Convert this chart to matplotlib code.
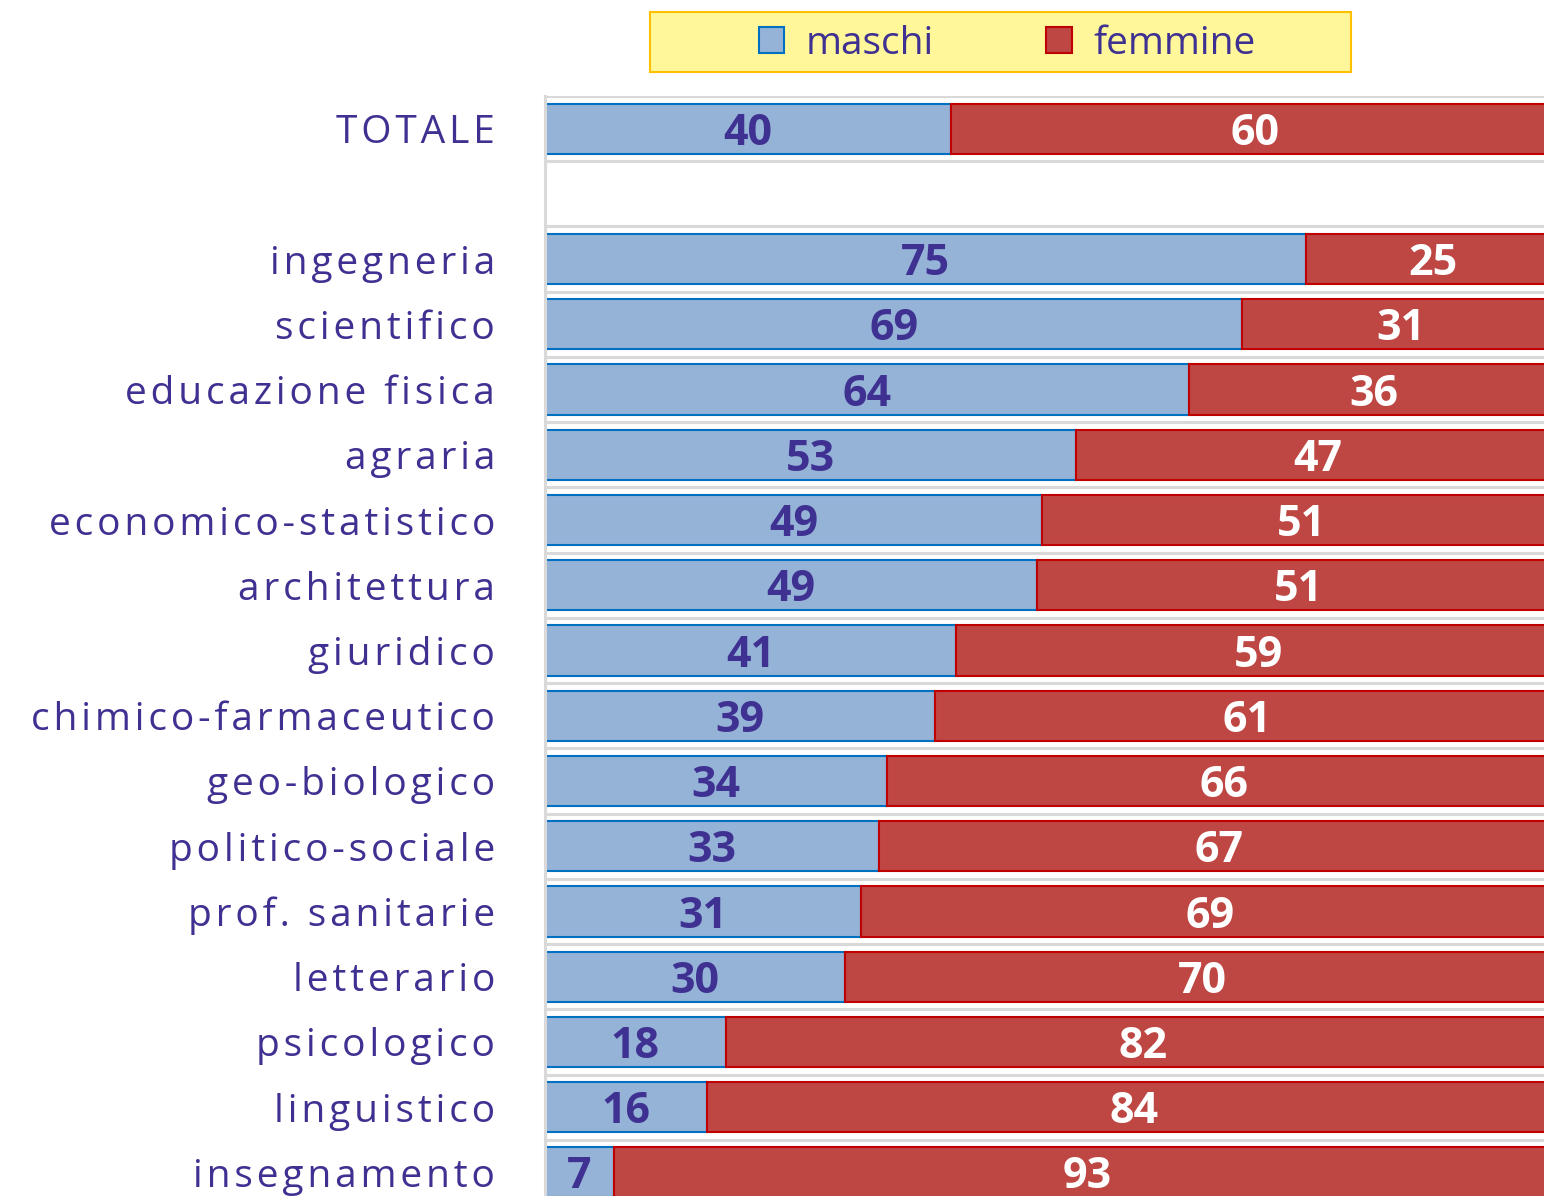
import numpy as np
import matplotlib.pyplot as plt
from matplotlib.patches import Rectangle

# dati (percentuali)
categorie = ["TOTALE", "", "ingegneria", "scientifico", "educazione fisica", "agraria",
             "economico-statistico", "architettura", "giuridico", "chimico-farmaceutico",
             "geo-biologico", "politico-sociale", "prof. sanitarie", "letterario",
             "psicologico", "linguistico", "insegnamento"]
maschi = [40.0, 0, 75.0, 68.7, 63.4, 52.3, 49.0, 48.5, 40.5, 38.4, 33.7, 32.9, 31.1,
          29.6, 17.8, 16.0, 6.8]
femmine = [60.0, 0, 25.0, 31.3, 36.6, 47.7, 51.0, 51.5, 59.5, 61.6, 66.3, 67.1, 68.9,
           70.4, 82.2, 84.0, 93.2]
etichette_m = ["40", "", "75", "69", "64", "53", "49", "49", "41", "39", "34", "33", "31",
               "30", "18", "16", "7"]
etichette_f = ["60", "", "25", "31", "36", "47", "51", "51", "59", "61", "66", "67", "69",
               "70", "82", "84", "93"]

col_m = "#95B3D7"
bordo_m = "#0070C0"
col_f = "#BE4744"
bordo_f = "#C00000"
viola = "#3F3192"
griglia = "#D9D9D9"
font = ["Open Sans", "DejaVu Sans"]

fig = plt.figure(figsize=(15.44, 11.96), dpi=100)
ax = fig.add_axes([545 / 1544, 1 - 1205 / 1196, 1015 / 1544, 1109 / 1196])

y = np.arange(len(categorie))
righe = [i for i in y if categorie[i] != ""]
ym = [y[i] for i in righe]
vm = [maschi[i] for i in righe]
vf = [femmine[i] for i in righe]

bm = ax.barh(ym, vm, height=0.77, color=col_m, edgecolor=bordo_m, linewidth=1.5,
             label="maschi", zorder=3)
bf = ax.barh(ym, vf, left=vm, height=0.77, color=col_f, edgecolor=bordo_f, linewidth=1.5,
             label="femmine", zorder=3)

for i in righe:
    ax.text(maschi[i] / 2, y[i] + 0.07, etichette_m[i], ha="center", va="center",
            color=viola, fontsize=31, fontweight="bold", family=font, zorder=4)
    ax.text(maschi[i] + femmine[i] / 2, y[i] + 0.07, etichette_f[i], ha="center",
            va="center", color="white", fontsize=31, fontweight="bold",
            family=font, zorder=4)

# spaziatura tra le lettere
spaziate = ["\u200a".join(c) for c in categorie]

ax.set_xlim(0, 100)
ax.set_ylim(len(categorie) - 0.5, -0.5)
ax.set_yticks(y)
ax.set_yticklabels(spaziate, fontsize=28, color=viola, family=font)
ax.tick_params(axis="y", length=0, pad=36)
ax.set_xticks([])
ax.set_yticks(np.arange(-0.5, len(categorie), 1), minor=True)
ax.tick_params(axis="y", which="minor", length=0)
ax.grid(axis="y", which="minor", color=griglia, linewidth=2.2, zorder=0)
for s in ["top", "right", "bottom"]:
    ax.spines[s].set_visible(False)
ax.spines["left"].set_color(griglia)
ax.spines["left"].set_linewidth(2.2)
ax.spines["left"].set_zorder(5)

# legenda
fig.patches.append(Rectangle((650 / 1544, 1 - 72 / 1196), 701 / 1544, 60 / 1196,
                             transform=fig.transFigure, facecolor="#FFF799",
                             edgecolor="#FFC000", linewidth=1.5))
leg = fig.legend(handles=[bm, bf], loc="center", bbox_to_anchor=(1007 / 1544, 1 - 44 / 1196),
                 ncol=2, frameon=False, prop={"family": font, "size": 28},
                 handlelength=0.65, handleheight=0.65, handletextpad=0.55, columnspacing=2.9,
                 labelcolor=viola)

fig.savefig("out.png", dpi=100)
